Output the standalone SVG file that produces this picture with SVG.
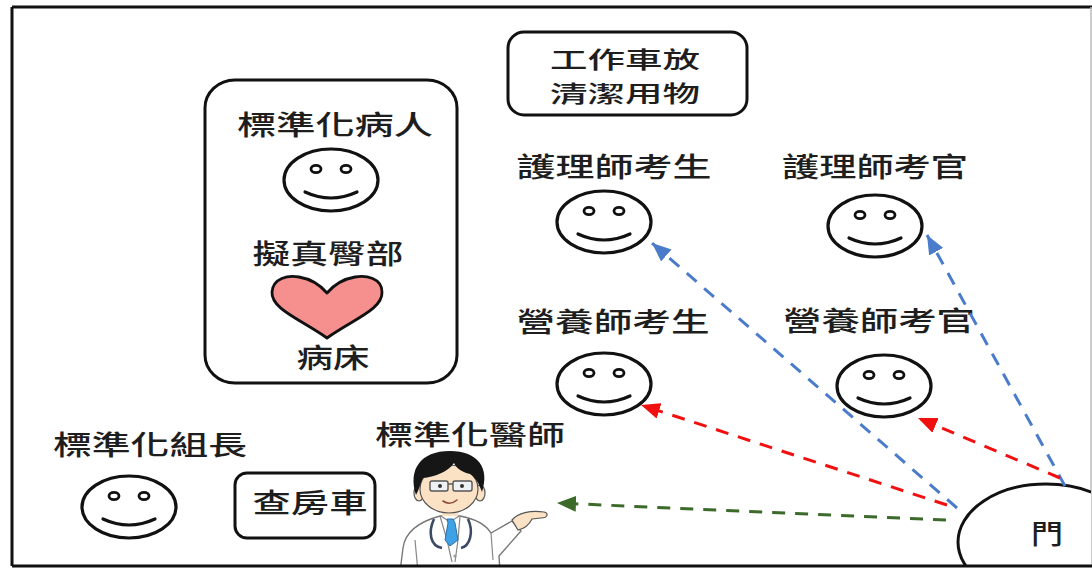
<svg xmlns="http://www.w3.org/2000/svg" width="1092" height="570" viewBox="0 0 1092 570">
  <style>
    .lbl { font-family: "Noto Sans CJK TC", "Noto Sans CJK SC", sans-serif; font-size: 27px; font-weight: 500; fill: #1e1e1e; text-anchor: middle; dominant-baseline: central; }
    .box { fill: #fff; stroke: #111; stroke-width: 3; }
    .face { fill: #fff; stroke: #111; stroke-width: 3.2; }
    .eye { fill: #fff; stroke: #111; stroke-width: 2.8; }
    .smile { fill: none; stroke: #111; stroke-width: 3.2; stroke-linecap: round; }
    .dash { fill: none; stroke-width: 3; stroke-dasharray: 13 10; }
    .blue { stroke: #4A7CCB; }
    .red { stroke: #F01010; }
    .green { stroke: #3C6A2A; }
    .coat { fill: #fff; stroke: #777; stroke-width: 1.4; stroke-linejoin: round; }
    .skin { fill: #FCE2C4; stroke: #555; stroke-width: 1.2; }
  </style>
  <defs>
    <marker id="ahBlue" markerUnits="userSpaceOnUse" markerWidth="20" markerHeight="16" refX="19" refY="8" orient="auto">
      <path d="M0,0 L19,8 L0,16 Z" fill="#4A7CCB"/>
    </marker>
    <marker id="ahRed" markerUnits="userSpaceOnUse" markerWidth="20" markerHeight="16" refX="19" refY="8" orient="auto">
      <path d="M0,0 L19,8 L0,16 Z" fill="#F01010"/>
    </marker>
    <marker id="ahGreen" markerUnits="userSpaceOnUse" markerWidth="20" markerHeight="16" refX="19" refY="8" orient="auto">
      <path d="M0,0 L19,8 L0,16 Z" fill="#3C6A2A"/>
    </marker>
    <clipPath id="inside">
      <rect x="12" y="7" width="1079" height="559"/>
    </clipPath>
    <!-- smiley: centred on 0,0 -->
    <g id="smiley">
      <ellipse class="face" cx="0" cy="0" rx="47" ry="31"/>
      <ellipse class="eye" cx="-15" cy="-11" rx="5" ry="3.6"/>
      <ellipse class="eye" cx="15" cy="-11" rx="5" ry="3.6"/>
      <path class="smile" d="M-26,12 Q0,24 26,12"/>
    </g>
  </defs>

  <rect x="0" y="0" width="1092" height="570" fill="#fff"/>

  <!-- frame -->
  <g id="frame">
    <line x1="12" y1="7" x2="1092" y2="7" stroke="#111" stroke-width="3"/>
    <line x1="12" y1="7" x2="12" y2="566" stroke="#111" stroke-width="3"/>
    <line x1="1091" y1="7" x2="1091" y2="566" stroke="#bbb" stroke-width="1.5"/>
  </g>

  <!-- patient station -->
  <g id="patient-area">
    <rect class="box" x="205" y="80" width="252" height="303" rx="30" ry="28"/>
    <text class="lbl" x="335" y="123" textLength="196" lengthAdjust="spacingAndGlyphs">標準化病人</text>
    <use href="#smiley" x="331" y="180"/>
    <text class="lbl" x="328" y="252" textLength="151" lengthAdjust="spacingAndGlyphs">擬真臀部</text>
    <path d="M327,338 C300,319 271,309 272,292 C273,278 288,275 299,277 C311,279 321,286 327,293 C333,286 343,279 355,277 C366,275 382,278 382,292 C383,309 354,319 327,338 Z" fill="#F5908F" stroke="#111" stroke-width="2.8" stroke-linejoin="round"/>
    <text class="lbl" x="333" y="356" textLength="73" lengthAdjust="spacingAndGlyphs">病床</text>
  </g>

  <!-- cart with cleaning supplies -->
  <g id="cart">
    <rect class="box" x="508" y="32" width="239" height="83" rx="16"/>
    <text class="lbl" style="font-size:23px" x="625" y="58" textLength="150" lengthAdjust="spacingAndGlyphs">工作車放</text>
    <text class="lbl" style="font-size:23px" x="625" y="92" textLength="150" lengthAdjust="spacingAndGlyphs">清潔用物</text>
  </g>

  <g id="nurse-candidate">
    <text class="lbl" x="614" y="165" textLength="195" lengthAdjust="spacingAndGlyphs">護理師考生</text>
    <use href="#smiley" x="604" y="222"/>
  </g>

  <g id="nurse-examiner">
    <text class="lbl" x="875" y="165" textLength="186" lengthAdjust="spacingAndGlyphs">護理師考官</text>
    <use href="#smiley" x="875" y="226"/>
  </g>

  <g id="dietitian-candidate">
    <text class="lbl" x="613" y="320" textLength="193" lengthAdjust="spacingAndGlyphs">營養師考生</text>
    <use href="#smiley" x="604" y="384"/>
  </g>

  <g id="dietitian-examiner">
    <text class="lbl" x="879" y="319" textLength="192" lengthAdjust="spacingAndGlyphs">營養師考官</text>
    <use href="#smiley" x="884" y="386"/>
  </g>

  <g id="team-leader">
    <text class="lbl" x="150" y="443" textLength="194" lengthAdjust="spacingAndGlyphs">標準化組長</text>
    <use href="#smiley" x="129" y="507"/>
  </g>

  <g id="ward-round-cart">
    <rect class="box" x="235" y="473" width="140" height="65" rx="12"/>
    <text class="lbl" x="310" y="501" textLength="115" lengthAdjust="spacingAndGlyphs">查房車</text>
  </g>

  <!-- standardized doctor -->
  <g id="doctor">
    <text class="lbl" x="470" y="433" textLength="190" lengthAdjust="spacingAndGlyphs">標準化醫師</text>
    <g clip-path="url(#inside)">
      <!-- coat and raised arm -->
      <path class="coat" d="M400,572 L403,548 C405,532 418,522 440,516 L460,516 C476,519 486,525 491,533 L512,521 L521,531 L499,556 L500,572 Z"/>
      <path d="M491,533 L493,560" fill="none" stroke="#888" stroke-width="1.2"/>
      <path d="M415,540 L418,572" fill="none" stroke="#888" stroke-width="1.2"/>
      <!-- lapels -->
      <path d="M440,516 L447,540 L452,562" fill="none" stroke="#888" stroke-width="1.2"/>
      <path d="M460,516 L458,540 L455,562" fill="none" stroke="#888" stroke-width="1.2"/>
      <!-- neck -->
      <rect x="442" y="508" width="16" height="10" fill="#FCE2C4"/>
      <!-- shirt collar and tie -->
      <path d="M441,516 L450,522 L459,516" fill="#fff" stroke="#888" stroke-width="1.2"/>
      <path d="M447,519 L453,519 L455,523 L458,540 L450,546 L445,540 L448,523 Z" fill="#3FA2E6" stroke="#2B6FA8" stroke-width="1"/>
      <!-- stethoscope -->
      <path d="M434,519 C428,532 430,546 442,548" fill="none" stroke="#3C4A66" stroke-width="2.6"/>
      <path d="M468,519 C474,532 470,546 461,548" fill="none" stroke="#3C4A66" stroke-width="2.6"/>
      <!-- buttons -->
      <circle cx="455" cy="556" r="1.6" fill="#999"/>
      <circle cx="456" cy="566" r="1.6" fill="#999"/>
      <!-- hand -->
      <path class="skin" d="M512,520 C518,513 530,510 544,512 C549,513 548,518 541,518 L532,519 C529,525 523,529 518,530 Z"/>
      <!-- ears -->
      <ellipse class="skin" cx="419" cy="493" rx="5" ry="8"/>
      <ellipse class="skin" cx="480" cy="493" rx="5" ry="8"/>
      <!-- face -->
      <ellipse class="skin" cx="449" cy="489" rx="29" ry="24"/>
      <!-- hair -->
      <path d="M416,495 C408,470 420,451 450,451 C478,451 490,468 482,492 C479,484 476,478 470,474 C462,472 456,468 454,463 C448,472 434,477 423,478 C420,484 419,490 416,495 Z" fill="#161616"/>
      <!-- glasses -->
      <rect x="430" y="481" width="18" height="10" rx="2" fill="#EEF2F4" stroke="#555" stroke-width="1.4"/>
      <rect x="453" y="481" width="19" height="10" rx="2" fill="#EEF2F4" stroke="#555" stroke-width="1.4"/>
      <line x1="448" y1="484" x2="453" y2="484" stroke="#555" stroke-width="1.4"/>
      <circle cx="440" cy="486" r="2" fill="#333"/>
      <circle cx="462" cy="486" r="2" fill="#333"/>
      <!-- mouth -->
      <path d="M443,501 Q450,506 457,500" fill="none" stroke="#8A4A3A" stroke-width="1.6" stroke-linecap="round"/>
    </g>
  </g>

  <!-- door -->
  <g id="door">
    <ellipse cx="1046" cy="542" rx="88" ry="58" fill="#fff" stroke="#111" stroke-width="3" clip-path="url(#inside)"/>
    <text class="lbl" x="1047" y="532" textLength="32" lengthAdjust="spacingAndGlyphs">門</text>
  </g>

  <!-- bottom edge of frame drawn over the door -->
  <line x1="12" y1="566" x2="1092" y2="566" stroke="#111" stroke-width="3"/>

  <!-- routes from the door -->
  <g id="connectors">
    <line class="dash blue" x1="957" y1="508" x2="652" y2="243" marker-end="url(#ahBlue)"/>
    <line class="dash blue" x1="1065" y1="486" x2="927" y2="235" marker-end="url(#ahBlue)"/>
    <line class="dash red" x1="947" y1="505" x2="641" y2="405" marker-end="url(#ahRed)"/>
    <line class="dash red" x1="1060" y1="478" x2="918" y2="418" marker-end="url(#ahRed)"/>
    <line class="dash green" x1="946" y1="520" x2="557" y2="503" marker-end="url(#ahGreen)"/>
  </g>
</svg>
